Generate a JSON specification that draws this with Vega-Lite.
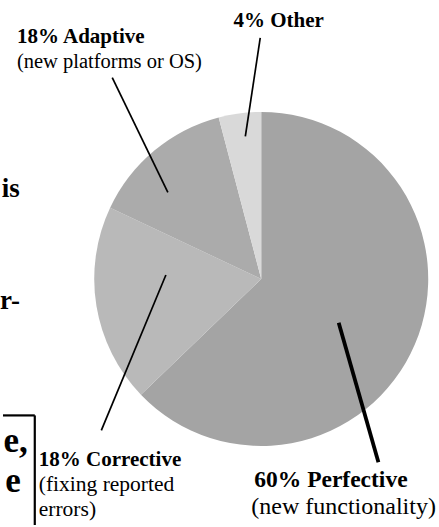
{
  "$schema": "https://vega.github.io/schema/vega-lite/v6.json",
  "width": 439,
  "height": 527,
  "autosize": {"type": "fit", "contains": "padding"},
  "padding": 0,
  "background": "white",
  "config": {"view": {"stroke": null}},
  "datasets": {
    "slices": [
      {"type": "Perfective", "share": 62.8, "rank": 1},
      {"type": "Corrective", "share": 19.2, "rank": 2},
      {"type": "Adaptive", "share": 13.9, "rank": 3},
      {"type": "Other", "share": 4.1, "rank": 4}
    ],
    "leaders": [
      {"slice": "Other", "x": -1, "y": 242, "x2": -16, "y2": 143},
      {"slice": "Adaptive", "x": -150, "y": 202, "x2": -94, "y2": 87},
      {"slice": "Corrective", "x": -96, "y": 4, "x2": -161, "y2": -152},
      {"slice": "Perfective", "x": 78, "y": -44, "x2": 118, "y2": -184}
    ],
    "labels": [
      {"text": "4% Other", "role": "title", "slice": "Other", "x": -28, "y": 253},
      {"text": "18% Adaptive", "role": "title", "slice": "Adaptive", "x": -246, "y": 237},
      {"text": "(new platforms or OS)", "role": "note", "slice": "Adaptive", "x": -246, "y": 212},
      {"text": "18% Corrective", "role": "title", "slice": "Corrective", "x": -224, "y": -188},
      {"text": "(fixing reported", "role": "note", "slice": "Corrective", "x": -224, "y": -213},
      {"text": "errors)", "role": "note", "slice": "Corrective", "x": -224, "y": -238},
      {"text": "60% Perfective", "role": "title", "slice": "Perfective", "x": -7, "y": -209},
      {"text": "(new functionality)", "role": "note", "slice": "Perfective", "x": -10, "y": -236}
    ],
    "fragments": [
      {"text": "is", "line": 1, "x": -243, "y": 82},
      {"text": "r-", "line": 2, "x": -243, "y": -30},
      {"text": "e,", "line": 3, "x": -235, "y": -174},
      {"text": "e", "line": 4, "x": -242, "y": -214}
    ],
    "box": [
      {"x": -260, "y": -137, "x2": -228, "y2": -137},
      {"x": -228, "y": -137, "x2": -228, "y2": -247}
    ]
  },
  "layer": [
    {
      "data": {"name": "slices"},
      "mark": {"type": "arc", "radius": 167, "strokeWidth": 0},
      "encoding": {
        "theta": {"field": "share", "type": "quantitative", "stack": true},
        "order": {"field": "rank", "type": "quantitative"},
        "color": {"field": "type", "type": "nominal", "legend": null,
          "scale": {"domain": ["Perfective", "Corrective", "Adaptive", "Other"], "range": ["#a4a4a4", "#b9b9b9", "#ababab", "#d9d9d9"]}},
        "x": {"datum": 0, "type": "quantitative", "scale": {"domain": [-260, 179], "nice": false, "zero": false}, "axis": null},
        "y": {"datum": 0, "type": "quantitative", "scale": {"domain": [-247, 280], "nice": false, "zero": false}, "axis": null}
      }
    },
    {
      "data": {"name": "leaders"},
      "transform": [{"filter": "datum.slice !== 'Perfective'"}],
      "mark": {"type": "rule", "color": "black", "strokeWidth": 1.7},
      "encoding": {
        "x": {"field": "x", "type": "quantitative", "scale": {"domain": [-260, 179], "nice": false, "zero": false}, "axis": null},
        "y": {"field": "y", "type": "quantitative", "scale": {"domain": [-247, 280], "nice": false, "zero": false}, "axis": null},
        "x2": {"field": "x2"},
        "y2": {"field": "y2"}
      }
    },
    {
      "data": {"name": "leaders"},
      "transform": [{"filter": "datum.slice === 'Perfective'"}],
      "mark": {"type": "rule", "color": "black", "strokeWidth": 3.8},
      "encoding": {
        "x": {"field": "x", "type": "quantitative", "scale": {"domain": [-260, 179], "nice": false, "zero": false}, "axis": null},
        "y": {"field": "y", "type": "quantitative", "scale": {"domain": [-247, 280], "nice": false, "zero": false}, "axis": null},
        "x2": {"field": "x2"},
        "y2": {"field": "y2"}
      }
    },
    {
      "data": {"name": "box"},
      "mark": {"type": "rule", "color": "black", "strokeWidth": 2.2},
      "encoding": {
        "x": {"field": "x", "type": "quantitative", "scale": {"domain": [-260, 179], "nice": false, "zero": false}, "axis": null},
        "y": {"field": "y", "type": "quantitative", "scale": {"domain": [-247, 280], "nice": false, "zero": false}, "axis": null},
        "x2": {"field": "x2"},
        "y2": {"field": "y2"}
      }
    },
    {
      "data": {"name": "labels"},
      "transform": [{"filter": "datum.role === 'title' && datum.slice !== 'Perfective'"}],
      "mark": {"type": "text", "font": "Liberation Serif", "color": "black", "align": "left", "baseline": "alphabetic", "fontWeight": "bold", "fontSize": 21},
      "encoding": {
        "x": {"field": "x", "type": "quantitative", "scale": {"domain": [-260, 179], "nice": false, "zero": false}, "axis": null},
        "y": {"field": "y", "type": "quantitative", "scale": {"domain": [-247, 280], "nice": false, "zero": false}, "axis": null},
        "text": {"field": "text"}
      }
    },
    {
      "data": {"name": "labels"},
      "transform": [{"filter": "datum.role === 'note' && datum.slice === 'Adaptive'"}],
      "mark": {"type": "text", "font": "Liberation Serif", "color": "black", "align": "left", "baseline": "alphabetic", "fontSize": 20.5},
      "encoding": {
        "x": {"field": "x", "type": "quantitative", "scale": {"domain": [-260, 179], "nice": false, "zero": false}, "axis": null},
        "y": {"field": "y", "type": "quantitative", "scale": {"domain": [-247, 280], "nice": false, "zero": false}, "axis": null},
        "text": {"field": "text"}
      }
    },
    {
      "data": {"name": "labels"},
      "transform": [{"filter": "datum.role === 'note' && datum.slice === 'Corrective'"}],
      "mark": {"type": "text", "font": "Liberation Serif", "color": "black", "align": "left", "baseline": "alphabetic", "fontSize": 21.5},
      "encoding": {
        "x": {"field": "x", "type": "quantitative", "scale": {"domain": [-260, 179], "nice": false, "zero": false}, "axis": null},
        "y": {"field": "y", "type": "quantitative", "scale": {"domain": [-247, 280], "nice": false, "zero": false}, "axis": null},
        "text": {"field": "text"}
      }
    },
    {
      "data": {"name": "labels"},
      "transform": [{"filter": "datum.role === 'title' && datum.slice === 'Perfective'"}],
      "mark": {"type": "text", "font": "Liberation Serif", "color": "black", "align": "left", "baseline": "alphabetic", "fontWeight": "bold", "fontSize": 23.5},
      "encoding": {
        "x": {"field": "x", "type": "quantitative", "scale": {"domain": [-260, 179], "nice": false, "zero": false}, "axis": null},
        "y": {"field": "y", "type": "quantitative", "scale": {"domain": [-247, 280], "nice": false, "zero": false}, "axis": null},
        "text": {"field": "text"}
      }
    },
    {
      "data": {"name": "labels"},
      "transform": [{"filter": "datum.role === 'note' && datum.slice === 'Perfective'"}],
      "mark": {"type": "text", "font": "Liberation Serif", "color": "black", "align": "left", "baseline": "alphabetic", "fontSize": 24},
      "encoding": {
        "x": {"field": "x", "type": "quantitative", "scale": {"domain": [-260, 179], "nice": false, "zero": false}, "axis": null},
        "y": {"field": "y", "type": "quantitative", "scale": {"domain": [-247, 280], "nice": false, "zero": false}, "axis": null},
        "text": {"field": "text"}
      }
    },
    {
      "data": {"name": "fragments"},
      "transform": [{"filter": "datum.line <= 2"}],
      "mark": {"type": "text", "font": "Liberation Serif", "color": "black", "align": "right", "baseline": "alphabetic", "fontWeight": "bold", "fontSize": 27},
      "encoding": {
        "x": {"field": "x", "type": "quantitative", "scale": {"domain": [-260, 179], "nice": false, "zero": false}, "axis": null},
        "y": {"field": "y", "type": "quantitative", "scale": {"domain": [-247, 280], "nice": false, "zero": false}, "axis": null},
        "text": {"field": "text"}
      }
    },
    {
      "data": {"name": "fragments"},
      "transform": [{"filter": "datum.line > 2"}],
      "mark": {"type": "text", "font": "Liberation Serif", "color": "black", "align": "right", "baseline": "alphabetic", "fontWeight": "bold", "fontSize": 35},
      "encoding": {
        "x": {"field": "x", "type": "quantitative", "scale": {"domain": [-260, 179], "nice": false, "zero": false}, "axis": null},
        "y": {"field": "y", "type": "quantitative", "scale": {"domain": [-247, 280], "nice": false, "zero": false}, "axis": null},
        "text": {"field": "text"}
      }
    }
  ]
}
